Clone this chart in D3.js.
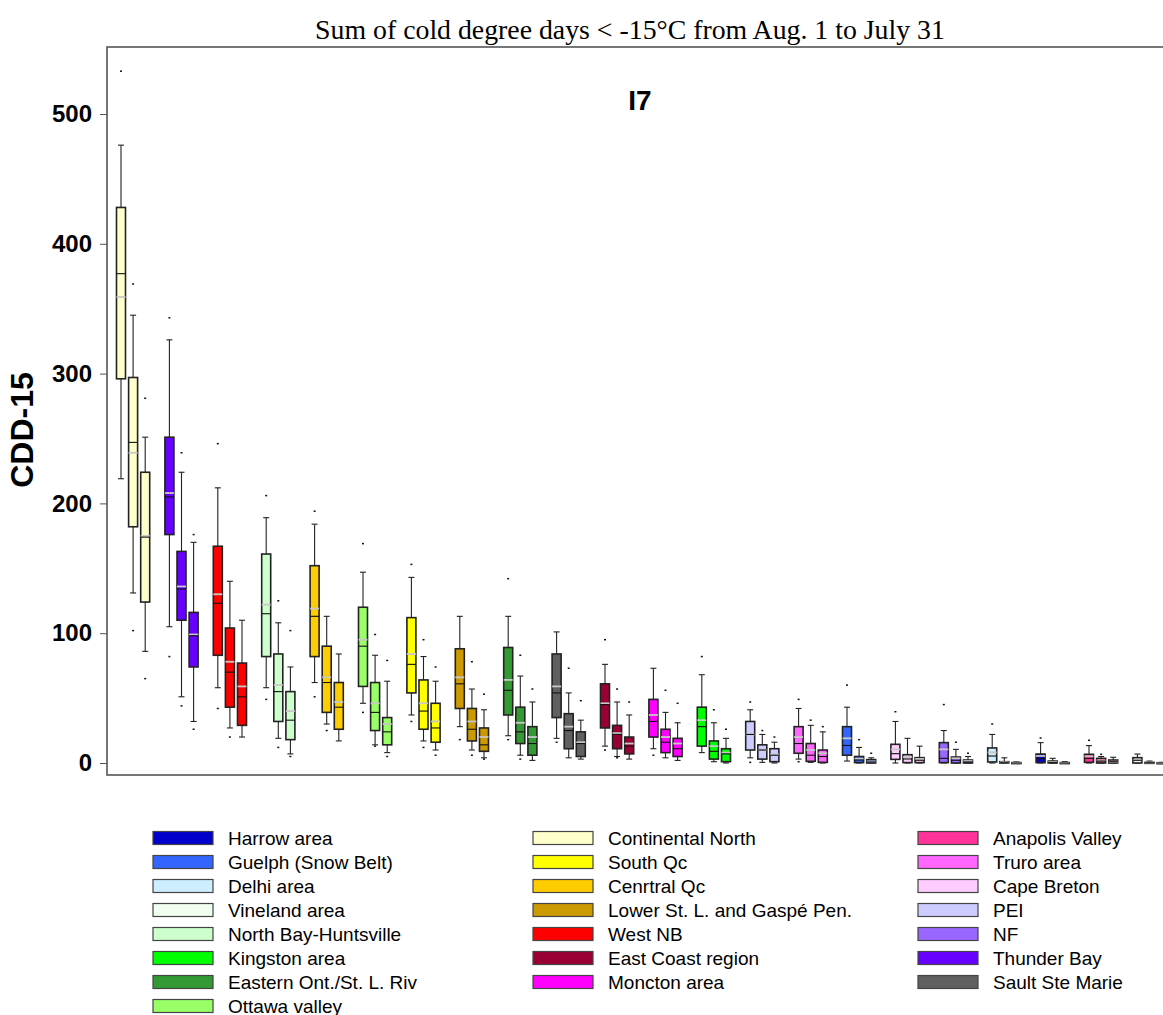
<!DOCTYPE html>
<html lang="en">
<head>
<meta charset="UTF-8">
<title>CDD-15 I7</title>
<script src="https://cdn.jsdelivr.net/npm/d3@7"></script>
<style>
  body { margin: 0; background: #fff; }
  svg { display: block; }
</style>
</head>
<body>
<script>
// regions in plot order (left to right), 3 boxes each
var regions = ["Continental North", "Thunder Bay", "West NB", "North Bay-Huntsville", "Cenrtral Qc",
  "Ottawa valley", "South Qc", "Lower St. L. and Gaspé Pen.", "Eastern Ont./St. L. Riv", "Sault Ste Marie",
  "East Coast region", "Moncton area", "Kingston area", "PEI", "Truro area", "Guelph (Snow Belt)",
  "Cape Breton", "NF", "Delhi area", "Harrow area", "Anapolis Valley", "Vineland area"];

var colors = {
  "Harrow area": "#0000CC", "Guelph (Snow Belt)": "#3366FF", "Delhi area": "#CCEEFF",
  "Vineland area": "#F0FFF0", "North Bay-Huntsville": "#CCFFCC", "Kingston area": "#00FF00",
  "Eastern Ont./St. L. Riv": "#339933", "Ottawa valley": "#99FF66", "Continental North": "#FFFFCC",
  "South Qc": "#FFFF00", "Cenrtral Qc": "#FFCC00", "Lower St. L. and Gaspé Pen.": "#CC9900",
  "West NB": "#FF0000", "East Coast region": "#990033", "Moncton area": "#FF00FF",
  "Anapolis Valley": "#FF3399", "Truro area": "#FF66FF", "Cape Breton": "#FFCCFF",
  "PEI": "#CCCCFF", "NF": "#9966FF", "Thunder Bay": "#6600FF", "Sault Ste Marie": "#606060"
};

// legend columns
var legendCol1 = ["Harrow area", "Guelph (Snow Belt)", "Delhi area", "Vineland area",
  "North Bay-Huntsville", "Kingston area", "Eastern Ont./St. L. Riv", "Ottawa valley"];
var legendCol2 = ["Continental North", "South Qc", "Cenrtral Qc", "Lower St. L. and Gaspé Pen.",
  "West NB", "East Coast region", "Moncton area"];
var legendCol3 = ["Anapolis Valley", "Truro area", "Cape Breton", "PEI", "NF",
  "Thunder Bay", "Sault Ste Marie"];

// box statistics, one triplet per region (same order as regions)
var hiOut = [[533, 369, 281], [343, 239, 176], [246, null, null], [206, 125, 102], [194, null, null],
  [169, 99, 79], [153, 95, 74], [null, 78, 53], [142, 83, 57], [null, 73, 48],
  [95, 57, 47], [null, 56, 46], [82, 41, 26], [47, 25, 20], [49, 33, 28], [60, 18, 7.5],
  [39.5, null, null], [45, 16, 7.5], [30, null, null], [19.3, null, null], [17.5, 6.7, null], [null, null, null]];
var whiskHi = [[476, 345, 251], [326, 224, 170], [212, 140, 110], [189, 108, 74], [184, 113, 84],
  [147, 83, 63], [143, 82, 63], [113, 57, 41], [113, 67, 47], [101, 54, 33],
  [76, 47, 37], [73, 39, 31], [68, 31, 19], [41, 22, 16], [42, 29, 24], [43, 12, 4],
  [32, 19, 13], [25, 10.5, 5], [22, 4, 0.8], [15.7, 3.6, 1], [13.4, 5, 4.4], [6.9, 1.5, 0.5]];
var q3 = [[428, 297, 224], [251, 163, 116], [167, 104, 77], [161, 84, 55], [152, 90, 62],
  [120, 62, 35], [112, 64, 46], [88, 42, 27], [89, 43, 28], [84, 38, 24],
  [61, 29, 20], [49, 26, 19], [43, 17, 11], [32, 14, 11], [28, 15, 10], [28, 5, 2.6],
  [14.4, 6.4, 4.1], [15.7, 4.6, 2.3], [11.6, 1, 0.3], [6.9, 1.5, 0.3], [6.7, 3.6, 2.3], [4.1, 0.5, 0.2]];
var medians = [[377, 247, 174], [205, 134, 98], [123, 70, 51], [115, 55, 33], [113, 62, 43],
  [90, 39, 24], [76, 40, 27], [61, 26, 14], [56, 24, 15], [54, 25, 15],
  [45, 22, 13], [32, 16, 11], [28, 9, 7], [22, 10, 6], [15, 6, 5], [13.5, 2.3, 0.8],
  [7.2, 3.1, 2.1], [3.6, 2.1, 0.8], [5.4, 0.2, 0], [3.3, 0.5, 0], [3.6, 1.5, 1], [2.1, 0.2, 0]];
var means = [[359, 239, 175], [208, 136, 99], [130, 78, 59], [122, 60, 40], [119, 66, 47],
  [95, 46, 30], [84, 46, 32], [66, 32, 20], [64, 31, 20], [59, 28, 16],
  [46, 23, 15], [37, 20, 15], [33, 13, 8], [22, 10, 6.5], [20, 10, 7.5], [19, 3.3, 1.2],
  [10.5, 4.6, 3.1], [10.5, 3.6, 1.5], [8.2, 0.5, 0.1], [5.4, 0.8, 0.1], [5.1, 2, 1], [2.1, 0.3, 0]];
var q1 = [[296, 182, 124], [176, 110, 74], [83, 43, 29], [82, 32, 18], [82, 39, 26],
  [59, 25, 14], [54, 26, 16], [42, 17, 9], [37, 15, 6], [35, 11, 5],
  [27, 11, 7], [20, 8, 5], [13, 3, 1], [10, 3, 1], [7.5, 1.3, 0.5], [6, 0.3, 0],
  [2.8, 0.3, 0.3], [0.3, 0, 0], [0.8, 0, 0], [0.3, 0, 0], [0.5, 0, 0], [0, 0, 0]];
var whiskLo = [[219, 131, 86], [105, 51, 32], [58, 27, 20], [58, 19, 7], [62, 30, 17],
  [46, 14, 8], [37, 17, 10], [28, 10, 4], [21, 6, 2], [19, 4, 3],
  [13, 5, 3], [11, 4, 2], [8, 1, 0], [4, 0.5, 0], [3, 0.5, 0], [1.5, 0, 0],
  [0, 0, 0], [0, 0, 0], [0, 0, 0], [0, 0, 0], [0, 0, 0], [0, 0, 0]];
var loOut = [[null, 102, 65], [82, 44, 26], [42, 20, null], [49, 12, 5], [51, 25, null],
  [39, 13, 5], [32, 12, 6], [18, 6, 3], [18, 3, null], [16, null, null],
  [10, 4, null], [6, null, null], [null, null, null], [0.5, null, null], [1, null, null], [null, null, null],
  [null, null, null], [null, null, null], [null, null, null], [null, null, null], [null, null, null], [null, null, null]];

var yTicks = [0, 100, 200, 300, 400, 500];

var W = 1163, H = 1015;
var svg = d3.select("body").append("svg").attr("width", W).attr("height", H);

var plotLeft = 107, plotTop = 47, plotBottom = 775, plotRight = 1185;

var x = d3.scaleLinear().domain([0, 86]).range([121, 121 + 86 * 12.1]);
var y = d3.scaleLinear().domain([0, 500]).range([763, 114]);

// flatten to one record per box
var boxes = [];
regions.forEach(function(r, g) {
  for (var j = 0; j < 3; j++) {
    boxes.push({
      region: r, slot: g * 4 + j, color: colors[r],
      hiOut: hiOut[g][j], whiskHi: whiskHi[g][j], q3: q3[g][j], med: medians[g][j],
      mean: means[g][j], q1: q1[g][j], whiskLo: whiskLo[g][j], loOut: loOut[g][j]
    });
  }
});

// title
svg.append("text")
  .attr("x", 630).attr("y", 39)
  .attr("text-anchor", "middle")
  .attr("font-family", "Liberation Serif, Times New Roman, serif")
  .attr("font-size", 27.8)
  .text("Sum of cold degree days < -15°C from Aug. 1 to July 31");

// frame
svg.append("rect")
  .attr("x", plotLeft).attr("y", plotTop)
  .attr("width", plotRight - plotLeft).attr("height", plotBottom - plotTop)
  .attr("fill", "none").attr("stroke", "#555").attr("stroke-width", 1.6);

// y axis ticks and labels
var axis = svg.append("g")
  .attr("transform", "translate(" + plotLeft + ",0)")
  .call(d3.axisLeft(y).tickValues(yTicks).tickSize(7).tickPadding(8).tickFormat(d3.format("d")));
axis.select(".domain").remove();
axis.selectAll("line").attr("stroke", "#555");
axis.selectAll("text")
  .attr("font-family", "Liberation Sans, Arial, sans-serif")
  .attr("font-weight", "bold")
  .attr("font-size", 24)
  .attr("fill", "#000");

svg.append("text")
  .attr("transform", "translate(33,430) rotate(-90)")
  .attr("text-anchor", "middle")
  .attr("font-family", "Liberation Sans, Arial, sans-serif")
  .attr("font-weight", "bold")
  .attr("font-size", 32)
  .text("CDD-15");

svg.append("text")
  .attr("x", 640).attr("y", 110)
  .attr("text-anchor", "middle")
  .attr("font-family", "Liberation Sans, Arial, sans-serif")
  .attr("font-weight", "bold")
  .attr("font-size", 28)
  .text("I7");

// boxes
var bw = 9, cw = 6;
var bx = svg.append("g").selectAll("g").data(boxes).enter().append("g");

bx.append("line")
  .attr("x1", function(d) { return x(d.slot); })
  .attr("x2", function(d) { return x(d.slot); })
  .attr("y1", function(d) { return y(d.whiskHi); })
  .attr("y2", function(d) { return y(d.whiskLo); })
  .attr("stroke", "#222").attr("stroke-width", 1.1);

bx.selectAll(".cap").data(function(d) { return [d, d].map(function(e, i) { return { s: e.slot, v: i ? e.whiskLo : e.whiskHi }; }); })
  .enter().append("line")
  .attr("x1", function(d) { return x(d.s) - cw / 2; })
  .attr("x2", function(d) { return x(d.s) + cw / 2; })
  .attr("y1", function(d) { return y(d.v); })
  .attr("y2", function(d) { return y(d.v); })
  .attr("stroke", "#222").attr("stroke-width", 1.1);

bx.append("rect")
  .attr("x", function(d) { return x(d.slot) - bw / 2; })
  .attr("y", function(d) { return y(d.q3); })
  .attr("width", bw)
  .attr("height", function(d) { return Math.max(y(d.q1) - y(d.q3), 1); })
  .attr("fill", function(d) { return d.color; })
  .attr("stroke", "#222").attr("stroke-width", 1.6);

bx.append("line")
  .attr("x1", function(d) { return x(d.slot) - bw / 2; })
  .attr("x2", function(d) { return x(d.slot) + bw / 2; })
  .attr("y1", function(d) { return y(d.mean); })
  .attr("y2", function(d) { return y(d.mean); })
  .attr("stroke", "#c8c8c8").attr("stroke-width", 1.8);

bx.append("line")
  .attr("x1", function(d) { return x(d.slot) - bw / 2; })
  .attr("x2", function(d) { return x(d.slot) + bw / 2; })
  .attr("y1", function(d) { return y(d.med); })
  .attr("y2", function(d) { return y(d.med); })
  .attr("stroke", "#111").attr("stroke-width", 1.1);

// outlier dots
var dots = [];
boxes.forEach(function(d) {
  if (d.hiOut != null) dots.push({ s: d.slot, v: d.hiOut });
  if (d.loOut != null) dots.push({ s: d.slot, v: d.loOut });
});
svg.append("g").selectAll("rect").data(dots).enter().append("rect")
  .attr("x", function(d) { return x(d.s) - 1; })
  .attr("y", function(d) { return y(d.v) - 0.75; })
  .attr("width", 2).attr("height", 1.5)
  .attr("fill", "#111");

// legend
var legendCols = [{ items: legendCol1, x: 153 }, { items: legendCol2, x: 533 }, { items: legendCol3, x: 918 }];
legendCols.forEach(function(col) {
  var lg = svg.append("g").selectAll("g").data(col.items).enter().append("g")
    .attr("transform", function(d, i) { return "translate(" + col.x + "," + (838 + i * 24) + ")"; });
  lg.append("rect")
    .attr("x", 0).attr("y", -6.5).attr("width", 60).attr("height", 13)
    .attr("fill", function(d) { return colors[d]; })
    .attr("stroke", "#444").attr("stroke-width", 1.2);
  lg.append("text")
    .attr("x", 75).attr("y", 6.5)
    .attr("font-family", "Liberation Sans, Arial, sans-serif")
    .attr("font-size", 19)
    .text(function(d) { return d; });
});
</script>
</body>
</html>
